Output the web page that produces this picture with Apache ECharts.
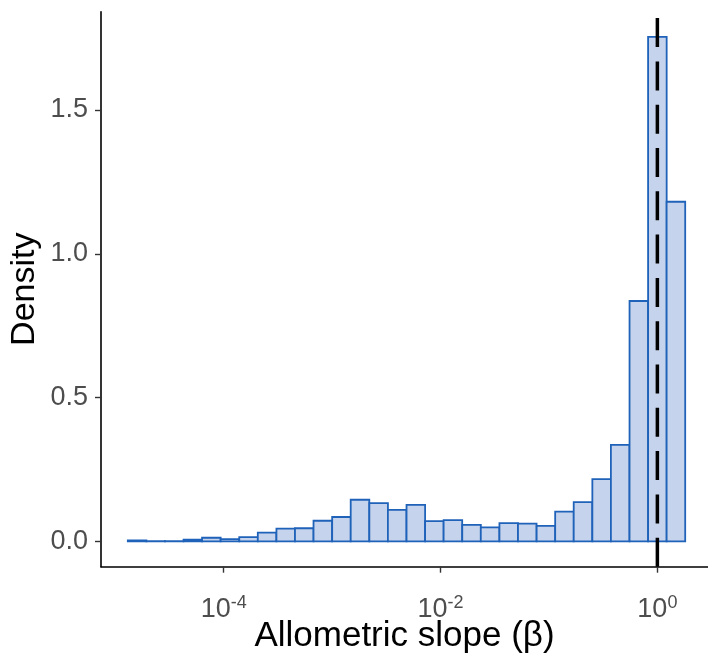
<!DOCTYPE html>
<html>
<head>
<meta charset="utf-8">
<script src="https://cdn.jsdelivr.net/npm/echarts@6/dist/echarts.min.js"></script>
<style>
html,body{margin:0;padding:0;background:#fff;}
#chart{width:708px;height:653px;}
</style>
</head>
<body>
<div id="chart"></div>
<script>
// log10 of bin centres (ggplot-style histogram, 30 bins)
const binCenters = [-4.799,-4.628,-4.457,-4.285,-4.114,-3.943,-3.771,-3.600,-3.428,-3.257,
  -3.086,-2.914,-2.743,-2.571,-2.400,-2.228,-2.057,-1.886,-1.714,-1.543,
  -1.371,-1.200,-1.028,-0.857,-0.686,-0.514,-0.343,-0.171,0.000,0.171];
const binWidth = 0.1714;
const density = [0.004,0.001,0.001,0.006,0.013,0.008,0.015,0.031,0.045,0.046,
  0.072,0.085,0.145,0.133,0.110,0.127,0.071,0.074,0.058,0.049,
  0.064,0.062,0.054,0.104,0.137,0.217,0.336,0.836,1.754,1.181];
const xTicks = [-4, -2, 0];           // exponents of 10
const yTicks = [0, 0.5, 1.0, 1.5];
const refLine = 0;                    // log10(1)

const yMin = -0.0877, yMax = 1.8417;
const FONT = 'Liberation Sans, Arial, sans-serif';

const chart = echarts.init(document.getElementById('chart'), null, {renderer:'canvas'});
const data = binCenters.map((c,i)=>[c, density[i]]);

chart.setOption({
  animation:false,
  backgroundColor:'#ffffff',
  grid:{left:101, right:0, top:11.7, bottom:86.3, containLabel:false, outerBoundsMode:'none'},
  xAxis:{
    type:'value', min:-5.132, max:0.467,
    axisLine:{show:true, onZero:false, lineStyle:{color:'#000', width:1.6}},
    axisTick:{show:true, customValues:xTicks, length:6, lineStyle:{color:'#333', width:1.4}},
    axisLabel:{
      customValues:xTicks, margin:27,
      formatter:v=>'{b|10}{s|'+v+'}',
      rich:{
        b:{fontSize:27, color:'#4d4d4d', fontFamily:FONT},
        s:{fontSize:18, color:'#4d4d4d', fontFamily:FONT, padding:[0,0,14,0]}
      }
    },
    splitLine:{show:false},
    name:'Allometric slope (β)', nameLocation:'middle', nameGap:52, nameMoveOverlap:false,
    nameTextStyle:{fontSize:35, color:'#000', fontFamily:FONT}
  },
  yAxis:{
    type:'value', min:yMin, max:yMax,
    axisLine:{show:true, onZero:false, lineStyle:{color:'#000', width:1.6}},
    axisTick:{show:true, customValues:yTicks, length:6, lineStyle:{color:'#333', width:1.4}},
    axisLabel:{customValues:yTicks, margin:13, fontSize:27, color:'#4d4d4d',
      fontFamily:FONT, formatter:v=>v.toFixed(1)},
    splitLine:{show:false},
    name:'Density', nameLocation:'middle', nameGap:59, nameRotate:90, nameMoveOverlap:false,
    nameTextStyle:{fontSize:34, color:'#000', fontFamily:FONT}
  },
  series:[
    {
      type:'custom',
      data:data,
      clip:true,
      renderItem:(params, api)=>{
        const c = api.value(0), v = api.value(1);
        const p1 = api.coord([c - binWidth/2, v]);
        const p2 = api.coord([c + binWidth/2, 0]);
        return {
          type:'rect',
          shape:{x:p1[0], y:p1[1], width:p2[0]-p1[0], height:p2[1]-p1[1]},
          style:{fill:'#c5d3ec', stroke:'#1f62b9', lineWidth:1.8}
        };
      }
    },
    {
      type:'line',
      data:[[refLine, yMin],[refLine, yMax]],
      symbol:'none',
      lineStyle:{color:'#000', width:3.5, type:[29,14.3]},
      z:5
    }
  ]
});
</script>
</body>
</html>
